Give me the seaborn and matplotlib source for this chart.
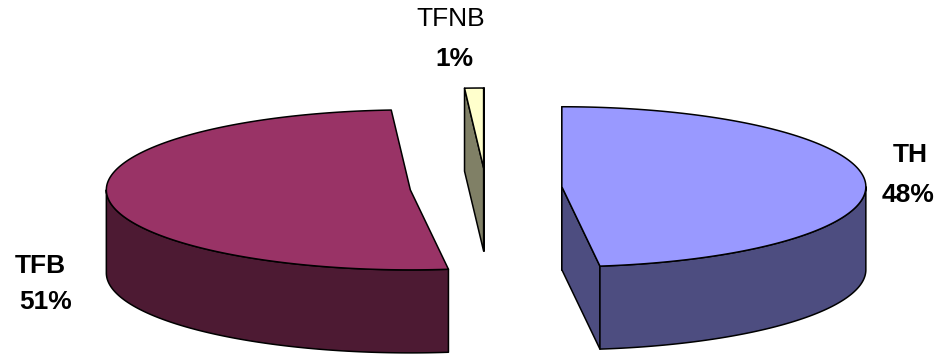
import numpy as np
import matplotlib
matplotlib.use("Agg")
import matplotlib.pyplot as plt
from matplotlib.patches import Polygon
import seaborn as sns

# ---- data ----
categories = ["TH", "TFB", "TFNB"]
shares = [48, 51, 1]           # percent
pct_labels = ["48%", "51%", "1%"]
top_colors = ["#9999FF", "#993366", "#FFFFCC"]
side_colors = ["#4D4D80", "#4D1A33", "#808066"]

sns.set_theme(style="white")
plt.rcParams["font.family"] = ["Liberation Sans", "DejaVu Sans"]
plt.rcParams["text.color"] = "black"

fig = plt.figure(figsize=(9.48, 3.54), dpi=100)
ax = fig.add_axes([0, 0, 1, 1])
ax.set_xlim(0, 948)
ax.set_ylim(354, 0)
ax.axis("off")

# ---- 3D pie geometry (pixel space, y down) ----
CX, CY = 486, 188      # pie centre
A, B = 304, 80         # ellipse semi-axes of the top face
H = 83                 # slice thickness
EXPLODE = 76           # explode distance along the major axis

fr = np.array(shares, dtype=float) / np.sum(shares)
ends = np.cumsum(fr) * 360.0
starts = ends - fr * 360.0


def rim(cx, cy, th):
    t = np.radians(th)
    return cx + A * np.sin(t), cy - B * np.cos(t)


def draw_slice(i):
    s, e = starts[i], ends[i]
    mid = np.radians((s + e) / 2)
    cx = CX + EXPLODE * np.sin(mid)
    cy = CY - EXPLODE * (B / A) * np.cos(mid)
    kw = dict(edgecolor="black", linewidth=1.1, joinstyle="round")
    # radial faces (front-facing or edge-on)
    for ang, nrm in ((s, s - 90), (e, e + 90)):
        if np.cos(np.radians(nrm)) < 1e-6:
            x, y = rim(cx, cy, ang)
            ax.add_patch(Polygon([(cx, cy), (x, y), (x, y + H), (cx, cy + H)],
                                 closed=True, facecolor=side_colors[i], **kw))
    # outer wall (front half only)
    lo, hi = max(s, 90), min(e, 270)
    if hi > lo:
        th = np.linspace(lo, hi, 200)
        xs, ys = rim(cx, cy, th)
        pts = list(zip(xs, ys)) + list(zip(xs[::-1], ys[::-1] + H))
        ax.add_patch(Polygon(pts, closed=True, facecolor=side_colors[i], **kw))
    # top face
    th = np.linspace(s, e, 300)
    xs, ys = rim(cx, cy, th)
    pts = [(cx, cy)] + list(zip(xs, ys))
    ax.add_patch(Polygon(pts, closed=True, facecolor=top_colors[i], **kw))


for i in [2, 1, 0]:
    draw_slice(i)

fs = 19
ax.text(910, 155, categories[0], ha="center", va="center", fontsize=fs, fontweight="bold", color="black")
ax.text(908, 195, pct_labels[0], ha="center", va="center", fontsize=fs, fontweight="bold", color="black")
ax.text(40, 266, categories[1], ha="center", va="center", fontsize=fs, fontweight="bold", color="black")
ax.text(46, 302, pct_labels[1], ha="center", va="center", fontsize=fs, fontweight="bold", color="black")
ax.text(451, 19, categories[2], ha="center", va="center", fontsize=fs, color="black")
ax.text(454, 59, pct_labels[2], ha="center", va="center", fontsize=fs, fontweight="bold", color="black")

fig.savefig("out.png", dpi=100)
